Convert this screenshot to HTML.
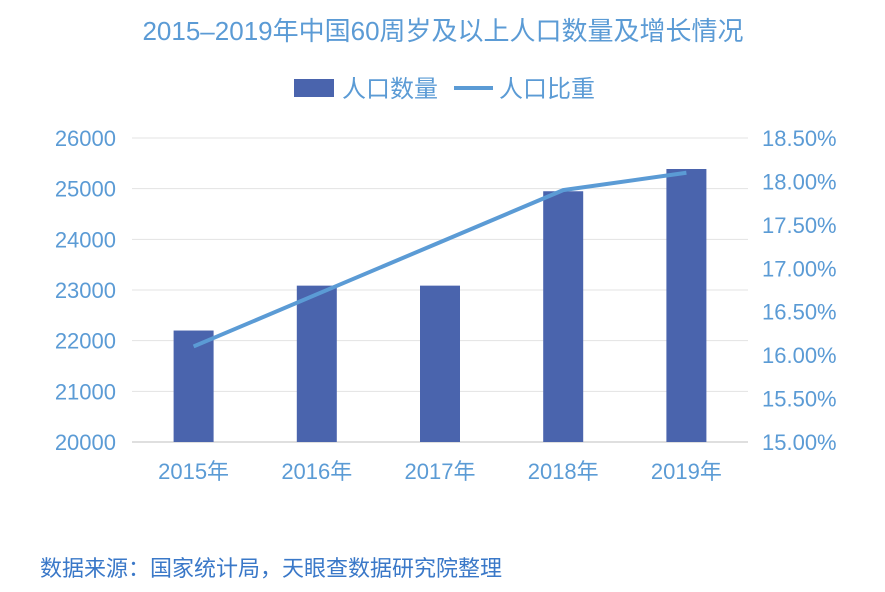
<!DOCTYPE html>
<html><head><meta charset="utf-8"><style>
body{margin:0;background:#fff;width:885px;height:587px;overflow:hidden;font-family:"Liberation Sans","Noto Sans CJK SC",sans-serif}
</style></head><body>
<svg id="c" width="885" height="587" font-family="Liberation Sans, Noto Sans CJK SC, sans-serif">
<text x="443" y="40" text-anchor="middle" font-size="26" fill="#5b9bd5">2015–2019年中国60周岁及以上人口数量及增长情况</text>
<g>
<rect x="294" y="79" width="40" height="18" fill="#4a64ad"/>
<text x="342" y="97" font-size="24" fill="#5b9bd5">人口数量</text>
<line x1="454" y1="88" x2="493" y2="88" stroke="#5b9bd5" stroke-width="4"/>
<text x="499" y="97" font-size="24" fill="#5b9bd5">人口比重</text>
</g>
<g id="grid"></g><g id="bars"></g><g id="line"></g><g id="axes"></g>
<text x="40" y="576" font-size="22" fill="#3a78c8">数据来源：国家统计局，天眼查数据研究院整理</text>
</svg>
<script>
const categories=["2015年","2016年","2017年","2018年","2019年"];
const population=[22200,23086,23086,24949,25388];
const share=[16.1,16.7,17.3,17.9,18.1];
const leftTicks=[20000,21000,22000,23000,24000,25000,26000];
const rightTicks=[15,15.5,16,16.5,17,17.5,18,18.5];
const NS="http://www.w3.org/2000/svg";
const x0=132,x1=748,yTop=138,yBot=442;
const yL=v=>yBot-(v-20000)/6000*(yBot-yTop);
const yR=v=>yBot-(v-15)/3.5*(yBot-yTop);
const band=(x1-x0)/categories.length;
const xC=i=>x0+band*(i+0.5);
function mk(t,a,p){const e=document.createElementNS(NS,t);for(const k in a)e.setAttribute(k,a[k]);document.getElementById(p).appendChild(e);return e;}
leftTicks.forEach((v,i)=>{
 const g=mk("line",{x1:x0,x2:x1,y1:yL(v),y2:yL(v),stroke:i==0?"#bfbfbf":"#e3e3e3","stroke-width":1},"grid");
 
 
 const t=mk("text",{x:116,y:yL(v)+8,"text-anchor":"end","font-size":22,fill:"#5b9bd5"},"axes");
 t.textContent=v;
 
 
});
rightTicks.forEach(v=>{
 const t=mk("text",{x:762,y:yR(v)+8,"font-size":22,fill:"#5b9bd5"},"axes");
 t.textContent=v.toFixed(2)+"%";
 
 
});
categories.forEach((c,i)=>{
 const b=mk("rect",{x:xC(i)-20,y:yL(population[i]),width:40,height:yBot-yL(population[i]),fill:"#4a64ad"},"bars");
 
 
 const t=mk("text",{x:xC(i),y:479,"text-anchor":"middle","font-size":22,fill:"#5b9bd5"},"axes");
 t.textContent=c;
 
 
});
const l=mk("polyline",{points:share.map((v,i)=>xC(i)+","+yR(v)).join(" "),fill:"none",stroke:"#5b9bd5","stroke-width":4},"line");


</script>
</body></html>
